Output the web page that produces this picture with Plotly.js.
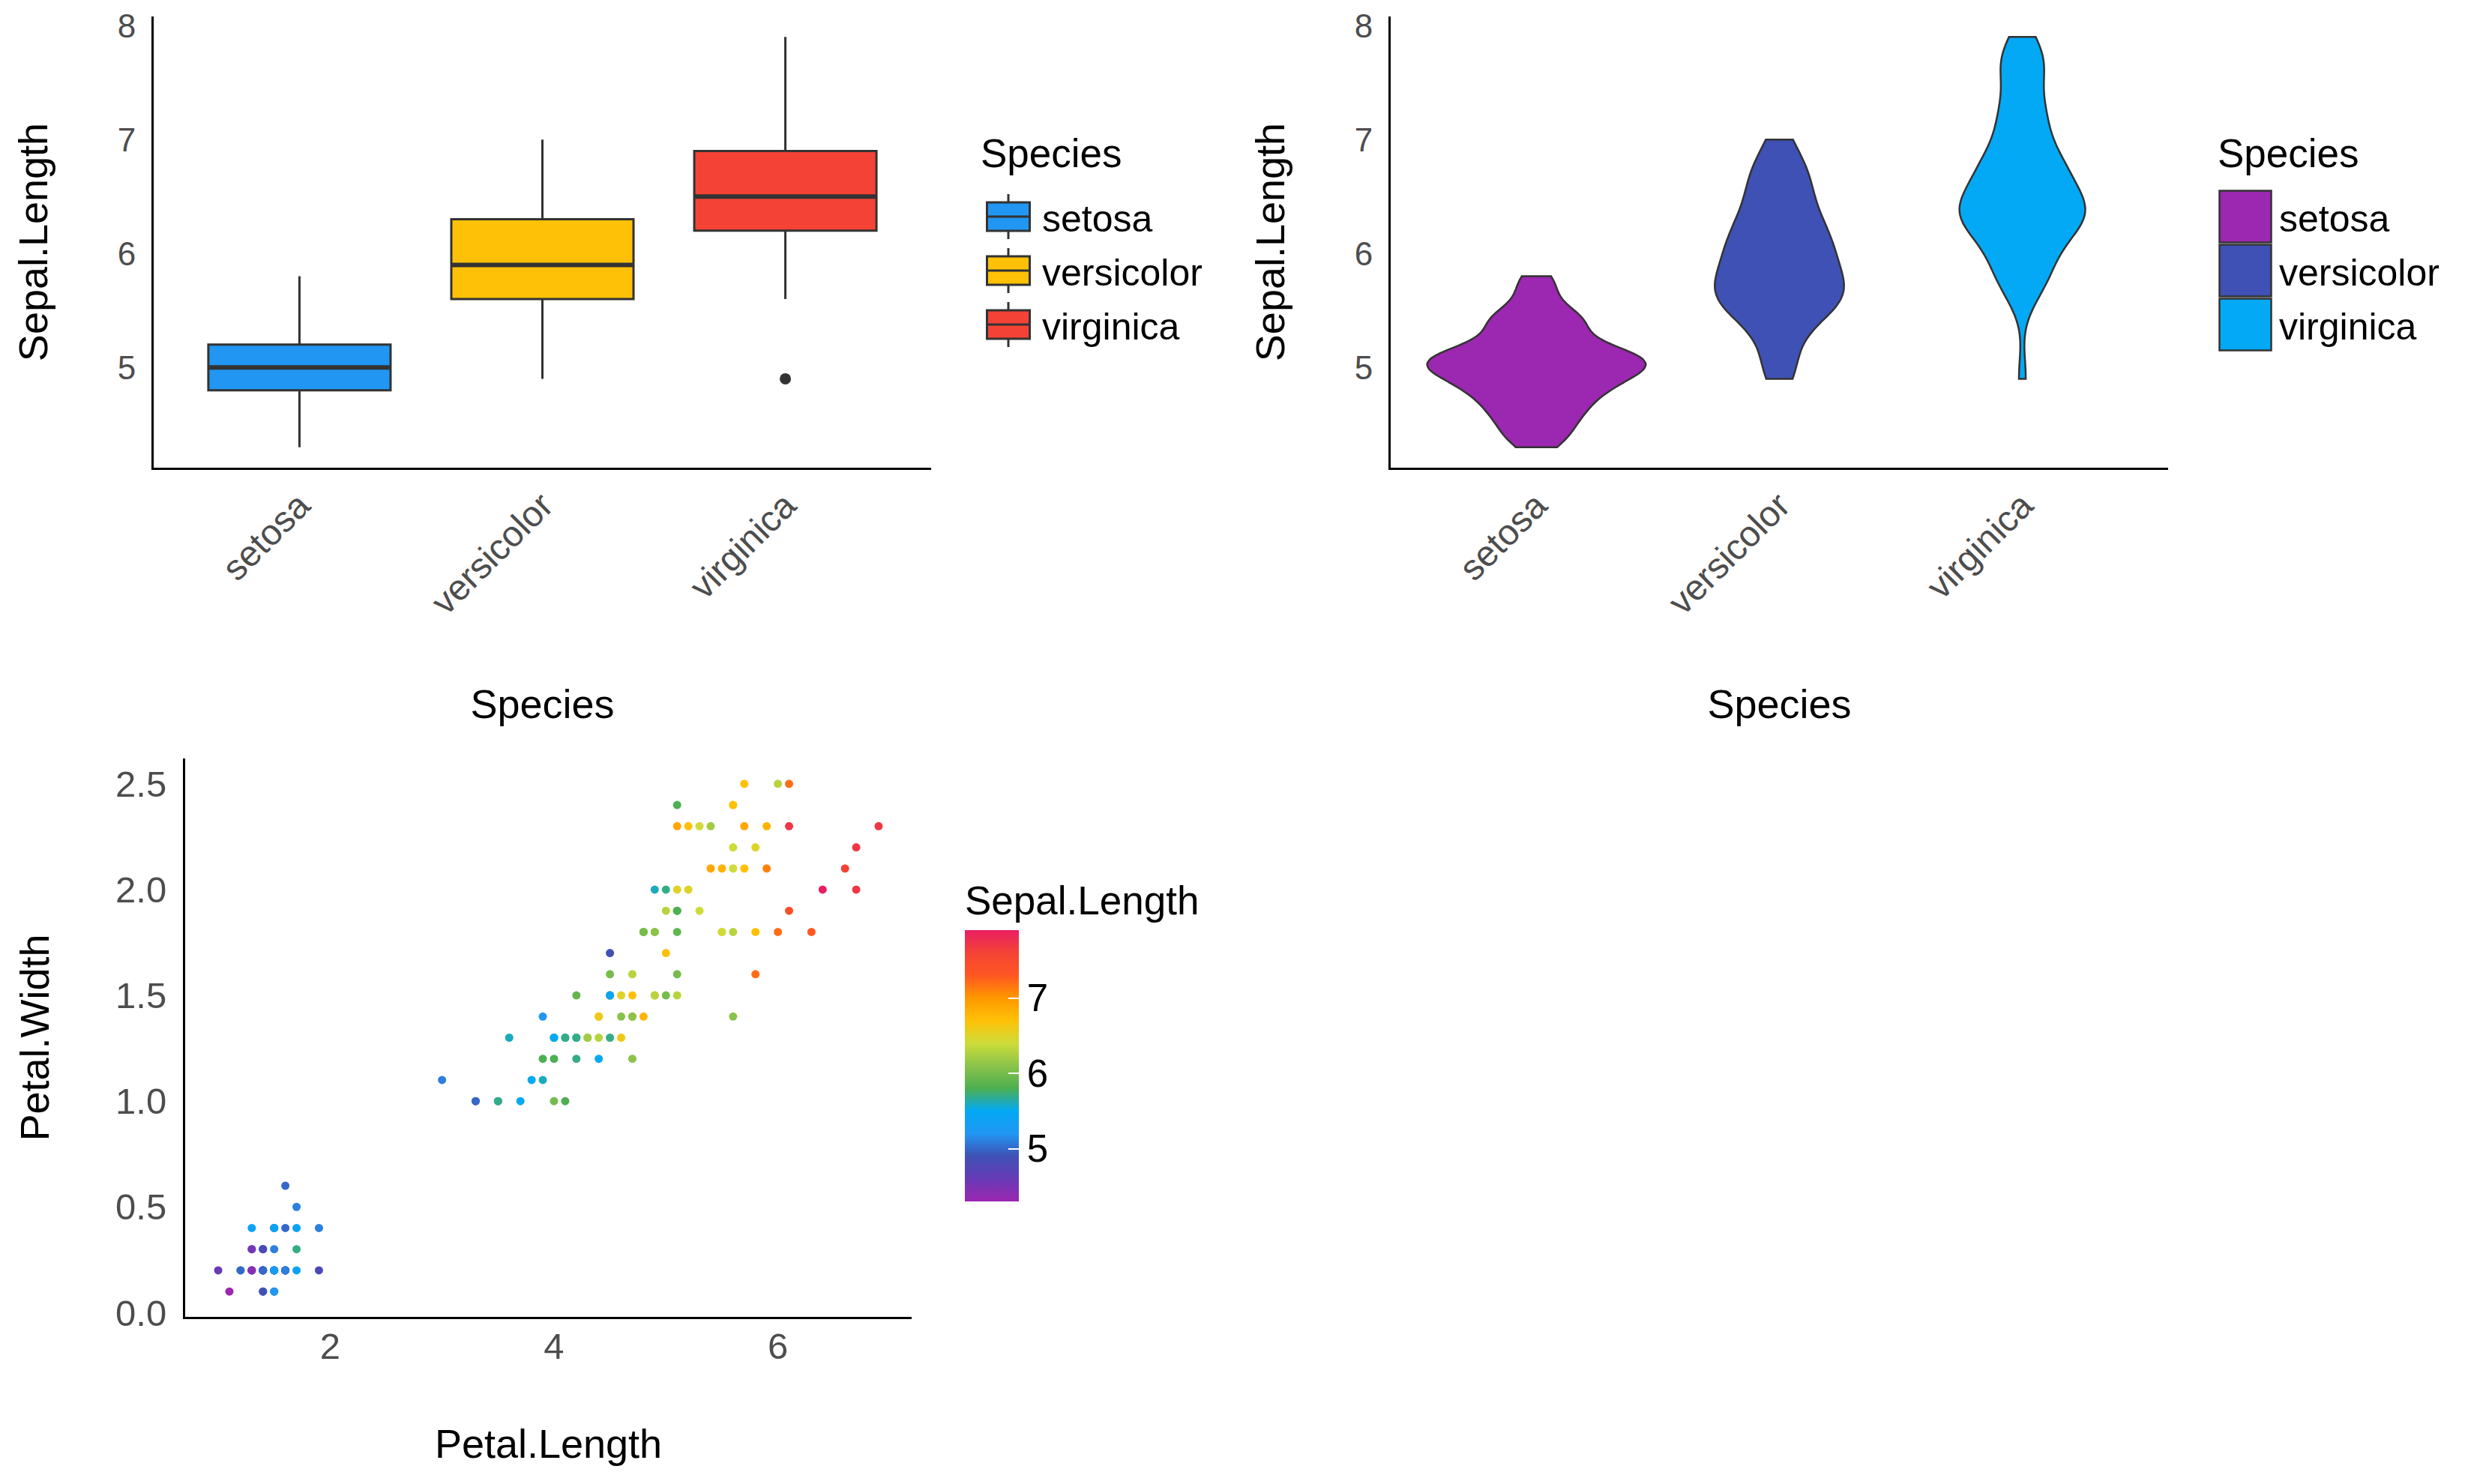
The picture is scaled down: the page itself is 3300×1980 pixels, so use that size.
<!DOCTYPE html>
<html>
<head>
<meta charset="utf-8">
<script src="https://cdn.plot.ly/plotly-3.0.1.min.js"></script>
<style>html,body{margin:0;padding:0;background:#ffffff;}</style>
</head>
<body>
<div id="chart" style="width:3300px;height:1980px"></div>
<script>
// ---------------- data (iris) ----------------
const species = ['setosa', 'versicolor', 'virginica'];

const sepalLengthSetosa = [5.1,4.9,4.7,4.6,5.0,5.4,4.6,5.0,4.4,4.9,5.4,4.8,4.8,4.3,5.8,5.7,5.4,5.1,5.7,5.1,5.4,5.1,4.6,5.1,4.8,5.0,5.0,5.2,5.2,4.7,4.8,5.4,5.2,5.5,4.9,5.0,5.5,4.9,4.4,5.1,5.0,4.5,4.4,5.0,5.1,4.8,5.1,4.6,5.3,5.0];
const petalLengthSetosa = [1.4,1.4,1.3,1.5,1.4,1.7,1.4,1.5,1.4,1.5,1.5,1.6,1.4,1.1,1.2,1.5,1.3,1.4,1.7,1.5,1.7,1.5,1.0,1.7,1.9,1.6,1.6,1.5,1.4,1.6,1.6,1.5,1.5,1.4,1.5,1.2,1.3,1.4,1.3,1.5,1.3,1.3,1.3,1.6,1.9,1.4,1.6,1.4,1.5,1.4];
const petalWidthSetosa = [0.2,0.2,0.2,0.2,0.2,0.4,0.3,0.2,0.2,0.1,0.2,0.2,0.1,0.1,0.2,0.4,0.4,0.3,0.3,0.3,0.2,0.4,0.2,0.5,0.2,0.2,0.4,0.2,0.2,0.2,0.2,0.4,0.1,0.2,0.2,0.2,0.2,0.1,0.2,0.2,0.3,0.3,0.2,0.6,0.4,0.3,0.2,0.2,0.2,0.2];

const sepalLengthVersicolor = [7.0,6.4,6.9,5.5,6.5,5.7,6.3,4.9,6.6,5.2,5.0,5.9,6.0,6.1,5.6,6.7,5.6,5.8,6.2,5.6,5.9,6.1,6.3,6.1,6.4,6.6,6.8,6.7,6.0,5.7,5.5,5.5,5.8,6.0,5.4,6.0,6.7,6.3,5.6,5.5,5.5,6.1,5.8,5.0,5.6,5.7,5.7,6.2,5.1,5.7];
const petalLengthVersicolor = [4.7,4.5,4.9,4.0,4.6,4.5,4.7,3.3,4.6,3.9,3.5,4.2,4.0,4.7,3.6,4.4,4.5,4.1,4.5,3.9,4.8,4.0,4.9,4.7,4.3,4.4,4.8,5.0,4.5,3.5,3.8,3.7,3.9,5.1,4.5,4.5,4.7,4.4,4.1,4.0,4.4,4.6,4.0,3.3,4.2,4.2,4.2,4.3,3.0,4.1];
const petalWidthVersicolor = [1.4,1.5,1.5,1.3,1.5,1.3,1.6,1.0,1.3,1.4,1.0,1.5,1.0,1.4,1.3,1.4,1.5,1.0,1.5,1.1,1.8,1.3,1.5,1.2,1.3,1.4,1.4,1.7,1.5,1.0,1.1,1.0,1.2,1.6,1.5,1.6,1.5,1.3,1.3,1.3,1.2,1.4,1.2,1.0,1.3,1.2,1.3,1.3,1.1,1.3];

const sepalLengthVirginica = [6.3,5.8,7.1,6.3,6.5,7.6,4.9,7.3,6.7,7.2,6.5,6.4,6.8,5.7,5.8,6.4,6.5,7.7,7.7,6.0,6.9,5.6,7.7,6.3,6.7,7.2,6.2,6.1,6.4,7.2,7.4,7.9,6.4,6.3,6.1,7.7,6.3,6.4,6.0,6.9,6.7,6.9,5.8,6.8,6.7,6.7,6.3,6.5,6.2,5.9];
const petalLengthVirginica = [6.0,5.1,5.9,5.6,5.8,6.6,4.5,6.3,5.8,6.1,5.1,5.3,5.5,5.0,5.1,5.3,5.5,6.7,6.9,5.0,5.7,4.9,6.7,4.9,5.7,6.0,4.8,4.9,5.6,5.8,6.1,6.4,5.6,5.1,5.6,6.1,5.6,5.5,4.8,5.4,5.6,5.1,5.1,5.9,5.7,5.2,5.0,5.2,5.4,5.1];
const petalWidthVirginica = [2.5,1.9,2.1,1.8,2.2,2.1,1.7,1.8,1.8,2.5,2.0,1.9,2.1,2.0,2.4,2.3,1.8,2.2,2.3,1.5,2.3,2.0,2.0,1.8,2.1,1.8,1.8,1.8,2.1,1.6,1.9,2.0,2.2,1.5,1.4,2.3,2.4,1.8,1.8,2.1,2.4,2.3,1.9,2.3,2.5,2.3,1.9,2.0,2.3,1.8];

const boxColors = ['#2196F3', '#FFC107', '#F44336'];
const violinColors = ['#9C27B0', '#3F51B5', '#03A9F4'];
const gradientColors = ['#9C27B0','#673AB7','#3F51B5','#2196F3','#03A9F4','#4CAF50','#8BC34A','#CDDC39','#FFC107','#FF9800','#FF5722','#F44336','#E91E63'];
const colorbarTicks = [5, 6, 7];

// ---------------- helpers ----------------
const sepalBySpecies = [sepalLengthSetosa, sepalLengthVersicolor, sepalLengthVirginica];
const petalLengthAll = [].concat(petalLengthSetosa, petalLengthVersicolor, petalLengthVirginica);
const petalWidthAll = [].concat(petalWidthSetosa, petalWidthVersicolor, petalWidthVirginica);
const sepalLengthAll = [].concat(sepalLengthSetosa, sepalLengthVersicolor, sepalLengthVirginica);

function quantile(arr, p) {
  const s = arr.slice().sort((a, b) => a - b);
  const h = (s.length - 1) * p, lo = Math.floor(h);
  const hi = Math.min(lo + 1, s.length - 1);
  return s[lo] + (h - lo) * (s[hi] - s[lo]);
}
function sd(arr) {
  const m = arr.reduce((a, b) => a + b, 0) / arr.length;
  return Math.sqrt(arr.reduce((a, b) => a + (b - m) * (b - m), 0) / (arr.length - 1));
}
function bwNrd0(arr) {
  const lo = Math.min(sd(arr), (quantile(arr, 0.75) - quantile(arr, 0.25)) / 1.34);
  return 0.9 * lo * Math.pow(arr.length, -0.2);
}
// peak of the gaussian KDE over the data range (for ggplot-like "area" scaling)
function maxKde(arr, bw) {
  const lo = Math.min(...arr), hi = Math.max(...arr);
  let best = 0;
  for (let k = 0; k <= 511; k++) {
    const t = lo + (hi - lo) * k / 511;
    let s = 0;
    for (const v of arr) { const z = (t - v) / bw; s += Math.exp(-0.5 * z * z); }
    best = Math.max(best, s / (arr.length * bw * Math.sqrt(2 * Math.PI)));
  }
  return best;
}

const FONT = 'Liberation Sans, Arial, sans-serif';
const W = 3300, H = 1980;
const px = v => v / W;
const py = v => 1 - v / H;
const OUT = '#333333';

const data = [];

// ---- box plot (top-left) ----
species.forEach((sp, i) => {
  data.push({
    type: 'box', xaxis: 'x', yaxis: 'y', legend: 'legend',
    name: sp, x0: sp, y: sepalBySpecies[i],
    legendgroup: 'b' + i,
    fillcolor: boxColors[i],
    line: {color: OUT, width: 3},
    width: 0.75, whiskerwidth: 0,
    boxpoints: 'outliers', jitter: 0, pointpos: 0,
    quartilemethod: 'linear',
    marker: {color: OUT, size: 15, line: {width: 0}},
    hoverinfo: 'skip'
  });
});
// thicker median bars (ggplot fatten) built from the same data
species.forEach((sp, i) => {
  const m = quantile(sepalBySpecies[i], 0.5);
  data.push({
    type: 'box', xaxis: 'x', yaxis: 'y', showlegend: false,
    x: [sp], q1: [m], median: [m], q3: [m], lowerfence: [m], upperfence: [m],
    fillcolor: 'rgba(0,0,0,0)', line: {color: OUT, width: 6},
    width: 0.75, whiskerwidth: 0, hoverinfo: 'skip'
  });
});

// ---- violin plot (top-right) ----
const bws = sepalBySpecies.map(bwNrd0);
const peaks = sepalBySpecies.map((a, i) => maxKde(a, bws[i]));
const peakMax = Math.max(...peaks);
species.forEach((sp, i) => {
  data.push({
    type: 'violin', xaxis: 'x2', yaxis: 'y2', legend: 'legend2',
    name: sp, x0: sp, y: sepalBySpecies[i],
    legendgroup: 'v' + i,
    fillcolor: violinColors[i],
    line: {color: OUT, width: 2.5},
    points: false, spanmode: 'hard',
    bandwidth: bws[i],
    width: 0.9 * peaks[i] / peakMax, scalemode: 'width', scalegroup: sp,
    hoverinfo: 'skip'
  });
});

// ---- scatter (bottom-left) ----
data.push({
  type: 'scatter', mode: 'markers', xaxis: 'x3', yaxis: 'y3', showlegend: false,
  x: petalLengthAll, y: petalWidthAll,
  marker: {
    size: 11, color: sepalLengthAll, line: {width: 0},
    colorscale: gradientColors.map((c, k) => [k / (gradientColors.length - 1), c]),
    colorbar: {
      x: px(1287), xanchor: 'left', y: py(1603), yanchor: 'bottom',
      thickness: 72, thicknessmode: 'pixels', len: 426, lenmode: 'pixels',
      xpad: 0, ypad: 0, outlinewidth: 0,
      ticks: 'inside', ticklen: 14, tickwidth: 2, tickcolor: '#ffffff',
      tickvals: colorbarTicks, tickfont: {size: 51, color: '#000000', family: FONT},
      title: {text: 'Sepal.Length', side: 'top', font: {size: 53, color: '#000000', family: FONT}}
    }
  },
  hoverinfo: 'skip'
});

const tickGrey = '#4D4D4D';
function catAxis(domain, anchor) {
  return {
    domain: domain, anchor: anchor, type: 'category',
    categoryorder: 'array', categoryarray: species, range: [-0.6, 2.6],
    showline: true, linecolor: '#000000', linewidth: 3, mirror: false,
    ticks: '', showgrid: false, zeroline: false, tickangle: -45,
    tickfont: {size: 48, color: tickGrey, family: FONT},
    title: {text: 'Species', font: {size: 54, color: '#000000', family: FONT}, standoff: 92}
  };
}
function sepalAxis(domain, anchor) {
  return {
    domain: domain, anchor: anchor, range: [4.12, 8.08], dtick: 1, tick0: 0,
    showline: true, linecolor: '#000000', linewidth: 3,
    ticks: '', showgrid: false, zeroline: false,
    tickfont: {size: 44, color: tickGrey, family: FONT}, ticklabelstandoff: 12,
    title: {text: 'Sepal.Length', font: {size: 54, color: '#000000', family: FONT}, standoff: 76}
  };
}
function legendCfg(x) {
  return {
    x: x, y: py(250), xanchor: 'left', yanchor: 'top',
    bgcolor: 'rgba(0,0,0,0)', borderwidth: 0,
    font: {size: 50, color: '#000000', family: FONT},
    itemwidth: 80, traceorder: 'grouped', tracegroupgap: 4,
    itemclick: false, itemdoubleclick: false
  };
}
function legendTitle(x) {
  return {
    text: 'Species', xref: 'paper', yref: 'paper', x: x, y: py(204),
    xanchor: 'left', yanchor: 'middle', showarrow: false,
    font: {size: 53, color: '#000000', family: FONT}
  };
}

const layout = {
  width: W, height: H, autosize: false,
  margin: {l: 0, r: 0, t: 0, b: 0, pad: 0},
  paper_bgcolor: '#ffffff', plot_bgcolor: '#ffffff',
  font: {family: FONT, color: '#000000'},
  boxmode: 'overlay', violinmode: 'overlay',
  xaxis: catAxis([px(205), px(1242)], 'y'),
  yaxis: sepalAxis([py(624), py(22)], 'x'),
  xaxis2: catAxis([px(1855), px(2892)], 'y2'),
  yaxis2: sepalAxis([py(624), py(22)], 'x2'),
  xaxis3: {
    domain: [px(247), px(1216)], anchor: 'y3', range: [0.705, 7.195], dtick: 2, tick0: 0,
    showline: true, linecolor: '#000000', linewidth: 3, ticks: '', showgrid: false, zeroline: false,
    tickfont: {size: 49, color: tickGrey, family: FONT}, ticklabelstandoff: -6,
    title: {text: 'Petal.Length', font: {size: 54, color: '#000000', family: FONT}, standoff: 86}
  },
  yaxis3: {
    domain: [py(1757), py(1012)], anchor: 'x3', range: [-0.02, 2.62], dtick: 0.5, tick0: 0, tickformat: '.1f',
    showline: true, linecolor: '#000000', linewidth: 3, ticks: '', showgrid: false, zeroline: false,
    tickfont: {size: 49, color: tickGrey, family: FONT}, ticklabelstandoff: 12,
    title: {text: 'Petal.Width', font: {size: 54, color: '#000000', family: FONT}, standoff: 72}
  },
  legend: legendCfg(px(1300)),
  legend2: legendCfg(px(2950)),
  annotations: [legendTitle(px(1306)), legendTitle(px(2956))],
  showlegend: true
};

Plotly.newPlot('chart', data, layout, {staticPlot: true, displayModeBar: false}).then(gd => {
  // enlarge the legend keys to ggplot-like key sizes
  gd.querySelectorAll('g.traces').forEach(g => {
    const d = g.__data__;
    if (!d || !d[0] || !d[0].trace) return;
    const p = g.querySelector('path.legendbox');
    if (!p) return;
    if (d[0].trace.type === 'violin') {
      p.setAttribute('d', 'M34.5,34.5H-34.5V-34.5H34.5Z');
    } else {
      p.setAttribute('d', 'M28.5,19H-28.5V-19H28.5Z M-28.5,0H28.5 M0,-19V-30 M0,19V30');
    }
  });
});
</script>
</body>
</html>
